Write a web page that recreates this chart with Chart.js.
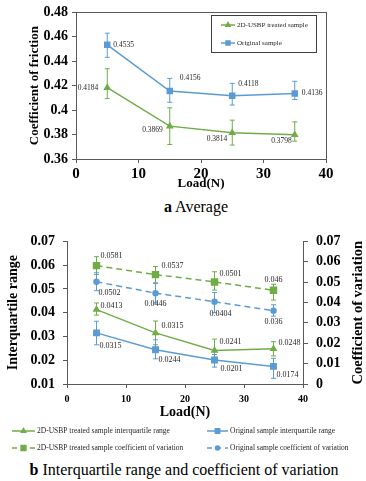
<!DOCTYPE html>
<html>
<head>
<meta charset="utf-8">
<script src="https://cdn.jsdelivr.net/npm/chart.js@4.4.0/dist/chart.umd.min.js"></script>
<style>
  html, body { margin: 0; padding: 0; background: #fff; }
  body { width: 366px; height: 481px; position: relative; overflow: hidden; font-family: "Liberation Serif", "Times New Roman", serif; }
  .box { position: absolute; left: 0; width: 366px; }
  .caption { position: absolute; width: 366px; text-align: center; font-size: 16px; line-height: 20px; color: #000; white-space: nowrap; }
</style>
</head>
<body>
<div class="box" style="top:0;height:192px"><canvas id="avgChart"></canvas></div>
<div class="caption" style="top:197px;left:13px"><b>a</b> Average</div>
<div class="box" style="top:225px;height:235px"><canvas id="iqrChart"></canvas></div>
<div class="caption" style="top:460px;left:1px"><b>b</b> Interquartile range and coefficient of variation</div>

<script>
// Данные графиков
const loads = [5, 15, 25, 35];

// (a) средний коэффициент трения
const treatedAvg = [0.4184, 0.3869, 0.3814, 0.3798];
const treatedAvgErrUp = [0.0155, 0.015, 0.0104, 0.0106];
const treatedAvgErrDown = [0.009, 0.015, 0.010, 0.0052];
const originalAvg = [0.4535, 0.4156, 0.4118, 0.4136];
const originalAvgErrUp = [0.0095, 0.0104, 0.0101, 0.010];
const originalAvgErrDown = [0.0103, 0.0092, 0.0076, 0.0049];

// (b) межквартильный размах и коэффициент вариации
const treatedIqr = [0.0413, 0.0315, 0.0241, 0.0248];
const treatedIqrErrUp = [0.0028, 0.005, 0.0048, 0.003];
const treatedIqrErrDown = [0.0023, 0.005, 0.0048, 0.003];
const originalIqr = [0.0315, 0.0244, 0.0201, 0.0174];
const originalIqrErrUp = [0.0049, 0.0042, 0.0023, 0.0034];
const originalIqrErrDown = [0.005, 0.0038, 0.003, 0.005];
const treatedCv = [0.0581, 0.0537, 0.0501, 0.046];
const treatedCvErrUp = [0.0044, 0.004, 0.005, 0.003];
const treatedCvErrDown = [0.0044, 0.004, 0.004, 0.0048];
const originalCv = [0.0502, 0.0446, 0.0404, 0.036];
const originalCvErrUp = [0.0044, 0.0048, 0.0045, 0.0029];
const originalCvErrDown = [0.0044, 0.0048, 0.0054, 0.0027];

const GREEN = '#70AD47';
const BLUE = '#5B9BD5';
const AXIS = '#595959';
const SERIF = "'Liberation Serif', 'Times New Roman', serif";

const toPoints = (ys) => loads.map((x, i) => ({ x: x, y: ys[i] }));
const fmt = (v) => String(+v.toFixed(4));

// Планки погрешностей
const errorBars = {
    id: 'errorBars',
    beforeDatasetsDraw(chart) {
        const ctx = chart.ctx;
        chart.data.datasets.forEach((ds, i) => {
            if (!ds.errUp) return;
            const meta = chart.getDatasetMeta(i);
            ctx.save();
            ctx.strokeStyle = ds.borderColor;
            ctx.lineWidth = 1;
            ds.data.forEach((pt, j) => {
                const x = meta.xScale.getPixelForValue(pt.x);
                const yTop = meta.yScale.getPixelForValue(pt.y + ds.errUp[j]);
                const yBot = meta.yScale.getPixelForValue(pt.y - ds.errDown[j]);
                ctx.beginPath();
                ctx.moveTo(x, yTop); ctx.lineTo(x, yBot);
                ctx.moveTo(x - 2.5, yTop); ctx.lineTo(x + 2.5, yTop);
                ctx.moveTo(x - 2.5, yBot); ctx.lineTo(x + 2.5, yBot);
                ctx.stroke();
            });
            ctx.restore();
        });
    }
};

// Подписи значений у точек
const pointLabels = {
    id: 'pointLabels',
    afterDatasetsDraw(chart, args, opts) {
        const ctx = chart.ctx;
        ctx.save();
        ctx.font = opts.size + 'px ' + SERIF;
        ctx.fillStyle = '#262626';
        ctx.textBaseline = 'middle';
        chart.data.datasets.forEach((ds, i) => {
            if (!ds.labelPos) return;
            const meta = chart.getDatasetMeta(i);
            meta.data.forEach((el, j) => {
                const [dx, dy, align] = ds.labelPos[j];
                ctx.textAlign = align;
                ctx.fillText(fmt(ds.data[j].y), el.x + dx, el.y + dy);
            });
        });
        ctx.restore();
    }
};

// Рамка вокруг области построения
const frame = {
    id: 'frame',
    afterDraw(chart, args, opts) {
        if (!opts.display) return;
        const a = chart.chartArea;
        const ctx = chart.ctx;
        ctx.save();
        ctx.strokeStyle = AXIS;
        ctx.lineWidth = 1;
        ctx.strokeRect(Math.round(a.left) + 0.5, Math.round(a.top) + 0.5,
            Math.round(a.right - a.left), Math.round(a.bottom - a.top));
        ctx.restore();
    }
};

// Заголовок правой оси (читается снизу вверх, как в оригинале)
const rightTitle = {
    id: 'rightTitle',
    afterDraw(chart, args, opts) {
        if (!opts.text) return;
        const scale = chart.scales[opts.axis];
        const a = chart.chartArea;
        const ctx = chart.ctx;
        ctx.save();
        ctx.translate(scale.right - opts.offset, (a.top + a.bottom) / 2);
        ctx.rotate(-Math.PI / 2);
        ctx.font = 'bold ' + opts.size + 'px ' + SERIF;
        ctx.fillStyle = '#000';
        ctx.textAlign = 'center';
        ctx.textBaseline = 'middle';
        ctx.fillText(opts.text, 0, 0);
        ctx.restore();
    }
};

// Легенда, нарисованная вручную
const customLegend = {
    id: 'customLegend',
    afterDraw(chart, args, opts) {
        const ctx = chart.ctx;
        ctx.save();
        if (opts.box) {
            const b = opts.box;
            ctx.strokeStyle = '#404040';
            ctx.lineWidth = 1;
            ctx.strokeRect(b[0] + 0.5, b[1] + 0.5, b[2], b[3]);
        }
        opts.items.forEach(it => {
            const ds = chart.data.datasets[it.index];
            ctx.strokeStyle = ds.borderColor;
            ctx.lineWidth = 1.5;
            ctx.setLineDash(ds.borderDash ? [5, 4] : []);
            ctx.beginPath();
            ctx.moveTo(it.x1, it.y);
            ctx.lineTo(it.x2, it.y);
            ctx.stroke();
            ctx.setLineDash([]);
            ctx.fillStyle = ds.borderColor;
            Chart.helpers.drawPoint(ctx, {
                pointStyle: ds.pointStyle, radius: ds.pointRadius * 0.8, rotation: 0, borderWidth: 1
            }, (it.x1 + it.x2) / 2, it.y);
            ctx.fillStyle = '#262626';
            ctx.font = opts.size + 'px ' + SERIF;
            ctx.textAlign = 'left';
            ctx.textBaseline = 'middle';
            ctx.fillText(ds.label, it.x2 + 2, it.y);
        });
        ctx.restore();
    }
};

const tickFmt = (v) => fmt(v);

// График (a)
new Chart(document.getElementById('avgChart'), {
    type: 'line',
    data: {
        datasets: [{
            label: '2D-USBP treated sample',
            data: toPoints(treatedAvg),
            borderColor: GREEN, backgroundColor: GREEN,
            borderWidth: 1.5, pointStyle: 'triangle', pointRadius: 3,
            errUp: treatedAvgErrUp, errDown: treatedAvgErrDown,
            labelPos: [[-9, 0, 'right'], [-7, 4, 'right'], [-5, 6, 'right'], [-3, 6, 'right']]
        }, {
            label: 'Original sample',
            data: toPoints(originalAvg),
            borderColor: BLUE, backgroundColor: BLUE,
            borderWidth: 1.5, pointStyle: 'rect', pointRadius: 3.5,
            errUp: originalAvgErrUp, errDown: originalAvgErrDown,
            labelPos: [[6, 0, 'left'], [10, -13, 'left'], [6, -12, 'left'], [7, 0, 'left']]
        }]
    },
    options: {
        responsive: true,
        maintainAspectRatio: false,
        animation: false,
        layout: { padding: { top: 12, right: 40, left: 0, bottom: 0 } },
        plugins: {
            legend: { display: false },
            tooltip: { enabled: false },
            pointLabels: { size: 7.5 },
            frame: { display: true },
            rightTitle: {},
            customLegend: {
                size: 7,
                box: [211, 15, 105, 37],
                items: [
                    { index: 0, x1: 221, x2: 235, y: 25 },
                    { index: 1, x1: 221, x2: 235, y: 43 }
                ]
            }
        },
        scales: {
            x: {
                type: 'linear', min: 0, max: 40,
                ticks: { stepSize: 10, color: '#000', padding: 2, maxRotation: 0,
                    font: { family: SERIF, size: 15, weight: 'bold' } },
                grid: { drawOnChartArea: false, tickLength: 4, color: AXIS },
                border: { color: AXIS },
                title: { display: true, text: 'Load(N)', color: '#000',
                    font: { family: SERIF, size: 13, weight: 'bold', lineHeight: 1.2 },
                    padding: { top: 0, bottom: 1 } },
                afterFit(s) { s.height = 33; }
            },
            y: {
                min: 0.36, max: 0.48,
                ticks: { stepSize: 0.02, color: '#000', padding: 4, callback: tickFmt,
                    font: { family: SERIF, size: 14, weight: 'bold' } },
                grid: { drawOnChartArea: false, tickLength: 4, color: AXIS },
                border: { color: AXIS },
                title: { display: true, text: 'Coefficient of friction', color: '#000',
                    font: { family: SERIF, size: 13, weight: 'bold', lineHeight: 1.2 },
                    padding: { top: 27, bottom: 0 } },
                afterFit(s) { s.width = 76; }
            }
        }
    },
    plugins: [frame, errorBars, pointLabels, customLegend, rightTitle]
});

// График (b)
new Chart(document.getElementById('iqrChart'), {
    type: 'line',
    data: {
        datasets: [{
            label: '2D-USBP treated sample interquartile range',
            data: toPoints(treatedIqr), yAxisID: 'y',
            borderColor: GREEN, backgroundColor: GREEN,
            borderWidth: 1.5, pointStyle: 'triangle', pointRadius: 3,
            errUp: treatedIqrErrUp, errDown: treatedIqrErrDown,
            labelPos: [[4, -4, 'left'], [6, -7, 'left'], [5, -9, 'left'], [5, -6, 'left']]
        }, {
            label: 'Original sample interquartile range',
            data: toPoints(originalIqr), yAxisID: 'y',
            borderColor: BLUE, backgroundColor: BLUE,
            borderWidth: 1.5, pointStyle: 'rect', pointRadius: 3.8,
            errUp: originalIqrErrUp, errDown: originalIqrErrDown,
            labelPos: [[3, 13, 'left'], [3, 10, 'left'], [6, 9, 'left'], [3, 8, 'left']]
        }, {
            label: '2D-USBP treated sample coefficient of variation',
            data: toPoints(treatedCv), yAxisID: 'y2',
            borderColor: GREEN, backgroundColor: GREEN, borderDash: [6, 4],
            borderWidth: 1.5, pointStyle: 'rect', pointRadius: 4.2,
            errUp: treatedCvErrUp, errDown: treatedCvErrDown,
            labelPos: [[4, -10, 'left'], [6, -9, 'left'], [5, -8, 'left'], [0, -10, 'center']]
        }, {
            label: 'Original sample coefficient of variation',
            data: toPoints(originalCv), yAxisID: 'y2',
            borderColor: BLUE, backgroundColor: BLUE, borderDash: [6, 4],
            borderWidth: 1.5, pointStyle: 'circle', pointRadius: 2.5,
            errUp: originalCvErrUp, errDown: originalCvErrDown,
            labelPos: [[2, 11, 'left'], [0, 11, 'center'], [6, 12, 'center'], [0, 11, 'center']]
        }]
    },
    options: {
        responsive: true,
        maintainAspectRatio: false,
        animation: false,
        layout: { padding: { top: 13, right: 0, left: 0, bottom: 36 } },
        plugins: {
            legend: { display: false },
            tooltip: { enabled: false },
            pointLabels: { size: 8 },
            frame: { display: false },
            rightTitle: { axis: 'y2', text: 'Coefficient of variation', size: 14.5, offset: 8 },
            customLegend: {
                size: 7.5,
                items: [
                    { index: 0, x1: 12, x2: 35, y: 206 },
                    { index: 1, x1: 207, x2: 228, y: 206 },
                    { index: 2, x1: 12, x2: 35, y: 223 },
                    { index: 3, x1: 207, x2: 228, y: 223 }
                ]
            }
        },
        scales: {
            x: {
                type: 'linear', min: 0, max: 40,
                ticks: { stepSize: 10, color: '#000', padding: 5, maxRotation: 0,
                    font: { family: SERIF, size: 10, weight: 'bold' } },
                grid: { drawOnChartArea: false, tickLength: 4, color: AXIS },
                border: { color: AXIS },
                title: { display: true, text: 'Load(N)', color: '#000',
                    font: { family: SERIF, size: 14, weight: 'bold', lineHeight: 1.2 },
                    padding: { top: 0, bottom: 3 } },
                afterFit(s) { s.height = 40; }
            },
            y: {
                position: 'left',
                min: 0.01, max: 0.07,
                ticks: { stepSize: 0.01, color: '#000', padding: 8, callback: tickFmt,
                    font: { family: SERIF, size: 14, weight: 'bold' } },
                grid: { drawOnChartArea: false, tickLength: 4, color: AXIS },
                border: { color: AXIS },
                title: { display: true, text: 'Interquartile range', color: '#000',
                    font: { family: SERIF, size: 14, weight: 'bold', lineHeight: 1.2 },
                    padding: { top: 5, bottom: 0 } },
                afterFit(s) { s.width = 67; }
            },
            y2: {
                position: 'right',
                min: 0, max: 0.07,
                ticks: { stepSize: 0.01, color: '#000', padding: 8, callback: tickFmt,
                    font: { family: SERIF, size: 14, weight: 'bold' } },
                grid: { drawOnChartArea: false, tickLength: 5, color: AXIS },
                border: { color: AXIS },
                title: { display: false },
                afterFit(s) { s.width = 63; }
            }
        }
    },
    plugins: [frame, errorBars, pointLabels, customLegend, rightTitle]
});
</script>
</body>
</html>
